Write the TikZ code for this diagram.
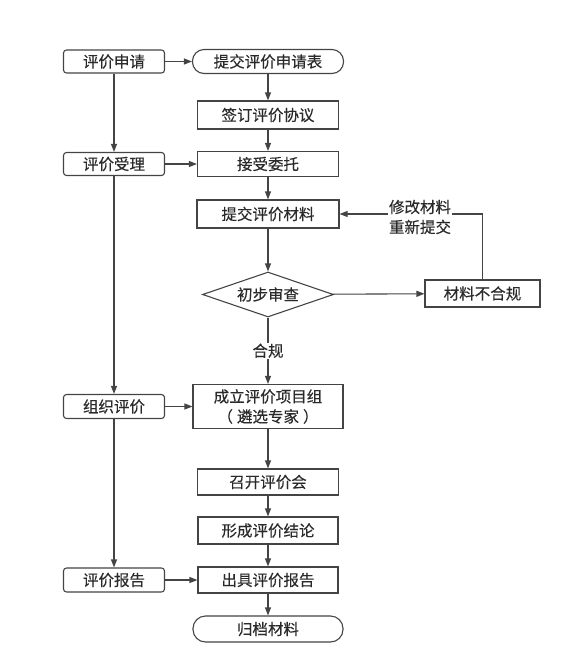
\documentclass[tikz,border=0pt]{standalone}
\usepackage{fontspec}
\setmainfont{Noto Sans CJK SC}[FakeBold=0.3]
\usetikzlibrary{arrows.meta,shapes.geometric}
\definecolor{ln}{HTML}{444444}
\definecolor{tx}{HTML}{2a2a2a}
\tikzset{
  box/.style={draw=ln, line width=1.1pt, text=tx, inner sep=0pt, align=center,
    font=\fontsize{15.5}{20}\selectfont},
  lbox/.style={box, rounded corners=3pt, minimum width=101pt, minimum height=23pt},
  rbox/.style={box, minimum width=141pt, minimum height=27pt},
  pill/.style={box, rounded corners=11.5pt, minimum width=151pt, minimum height=24pt},
  dia/.style={box, shape=diamond, aspect=2.9, minimum width=131pt, minimum height=45pt},
  arr/.style={draw=ln, line width=1.1pt, -{Triangle[length=8pt,width=6pt]}},
  lbl/.style={text=tx, fill=white, inner sep=1pt, align=center,
    font=\fontsize{15.5}{20}\selectfont},
}
\begin{document}
\begin{tikzpicture}[x=1pt,y=-1pt]
\useasboundingbox (0,0) rectangle (575,665);
% left column
\node[lbox] (a1) at (114,61.5) {评价申请};
\node[lbox] (a2) at (114,164) {评价受理};
\node[lbox, minimum height=24pt] (a3) at (114,406.5) {组织评价};
\node[lbox, minimum height=24pt] (a4) at (114,580) {评价报告};
% right column
\node[pill] (b1) at (268,61.5) {提交评价申请表};
\node[rbox, minimum height=28pt] (b2) at (268,115) {签订评价协议};
\node[rbox, minimum height=25pt] (b3) at (268,164) {接受委托};
\node[rbox, minimum height=28pt, minimum width=142pt] (b4) at (268,214) {提交评价材料};
\node[dia] (d) at (268,294.5) {初步审查};
\node[rbox, minimum width=115pt] (c) at (482.5,293.5) {材料不合规};
\node[rbox, minimum width=150pt, minimum height=44pt] (b5) at (268,406.5) {成立评价项目组\\（\hspace{4pt}遴选专家\hspace{4pt}）};
\node[rbox, minimum height=26pt] (b6) at (268,482) {召开评价会};
\node[rbox, minimum width=140pt] (b7) at (268,530.5) {形成评价结论};
\node[rbox, minimum width=140pt, minimum height=26pt] (b8) at (268,580) {出具评价报告};
\node[pill, minimum width=150pt, minimum height=26pt, rounded corners=12.5pt] (b9) at (268,629) {归档材料};
% left vertical arrows
\draw[arr] (a1) -- (a2);
\draw[arr] (a2) -- (a3);
\draw[arr] (a3) -- (a4);
% horizontal arrows
\draw[arr] (a1) -- (b1);
\draw[arr] (a2) -- (b3);
\draw[arr] (a3) -- (b5);
\draw[arr] (a4) -- (b8);
% right vertical arrows
\draw[arr] (b1) -- (b2);
\draw[arr] (b2) -- (b3);
\draw[arr] (b3) -- (b4);
\draw[arr] (b4) -- (d);
\draw[arr] (d) -- node[lbl, pos=0.5] {合规} (b5);
\draw[arr] (b5) -- (b6);
\draw[arr] (b6) -- (b7);
\draw[arr] (b7) -- (b8);
\draw[arr] (b8) -- (b9);
% review loop
\draw[arr] (d) -- (c);
\draw[arr] (c.north) |- (b4.east);
\node[lbl] (fix) at (420,217) {修改材料\\重新提交};
\end{tikzpicture}
\end{document}
